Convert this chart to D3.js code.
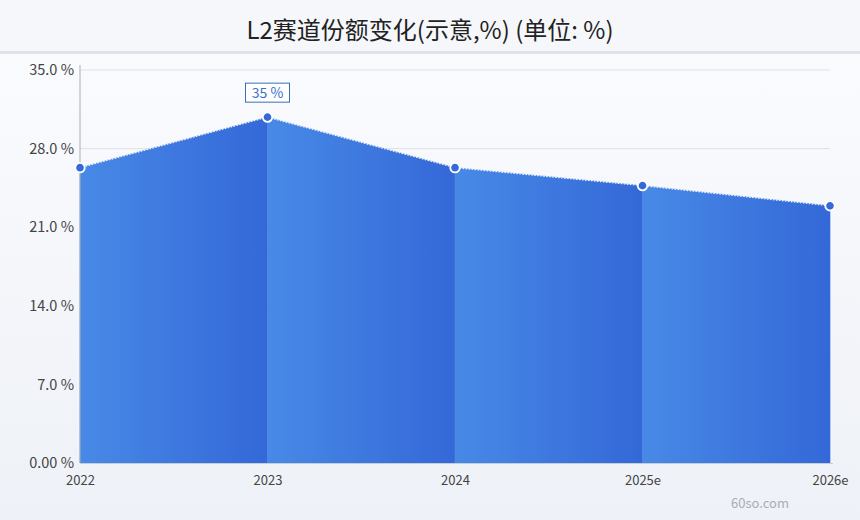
<!DOCTYPE html>
<html><head><meta charset="utf-8">
<script src="https://cdn.jsdelivr.net/npm/d3@7"></script>
<style>
html,body{margin:0;padding:0;}
body{width:860px;height:520px;overflow:hidden;font-family:"Noto Sans CJK SC","Noto Sans",sans-serif;}
</style></head>
<body>
<svg id="c" width="860" height="520"></svg>
<script>
const title = "L2赛道份额变化(示意,%) (单位: %)";
const categories = ["2022","2023","2024","2025e","2026e"];
const values = [26.3, 30.8, 26.3, 24.7, 22.9];
const yTicks = [0, 7, 14, 21, 28, 35];
const yTickLabels = ["0.00 %","7.0 %","14.0 %","21.0 %","28.0 %","35.0 %"];
const peakLabel = "35 %";
const watermark = "60so.com";

const W = 860, H = 520;
const m = {left: 80, right: 30, top: 70, bottom: 57};
const svg = d3.select("#c");
const defs = svg.append("defs");

const bg = defs.append("linearGradient").attr("id","bg").attr("x1",0).attr("y1",0).attr("x2",0).attr("y2",1);
bg.append("stop").attr("offset","0%").attr("stop-color","#fbfcfe");
bg.append("stop").attr("offset","100%").attr("stop-color","#eef1f7");
svg.append("rect").attr("width",W).attr("height",H).attr("fill","url(#bg)");
svg.append("rect").attr("width",W).attr("height",51).attr("fill","#f6f7fb");
svg.append("rect").attr("y",51).attr("width",W).attr("height",3).attr("fill","#dfe2ea");

svg.append("text").attr("x",W/2).attr("y",39).attr("text-anchor","middle")
  .attr("font-size",24).attr("font-weight",400).attr("fill","#222").text(title);

const x = d3.scalePoint().domain(categories).range([m.left, W - m.right]);
const y = d3.scaleLinear().domain([0,35]).range([H - m.bottom, m.top]);

// grid
svg.append("g").selectAll("line").data(yTicks.filter(d=>d>0)).join("line")
  .attr("x1",m.left).attr("x2",W - m.right)
  .attr("y1",d=>y(d)).attr("y2",d=>y(d))
  .attr("stroke","#dde1e8").attr("stroke-width",1);

// segment gradient
const sg = defs.append("linearGradient").attr("id","seg").attr("x1",0).attr("y1",0).attr("x2",1).attr("y2",0);
sg.append("stop").attr("offset","0%").attr("stop-color","#4889e6");
sg.append("stop").attr("offset","100%").attr("stop-color","#3468d8");

const area = d3.area().x(d=>x(d.c)).y0(y(0)).y1(d=>y(d.v));
const pts = categories.map((c,i)=>({c, v: values[i]}));
for (let i = 0; i < pts.length - 1; i++) {
  const seg = [pts[i], pts[i+1]];
  svg.append("path").attr("d", area(seg)).attr("fill","url(#seg)")
    .attr("stroke","url(#seg)").attr("stroke-width",0.6);
}
const line = d3.line().x(d=>x(d.c)).y(d=>y(d.v));
svg.append("path").attr("d", line(pts)).attr("fill","none")
  .attr("stroke","#ffffff").attr("stroke-width",1.2).attr("stroke-dasharray","1.5,1.5").attr("opacity",0.9);

// baseline
svg.append("line").attr("x1",m.left).attr("x2",W - m.right + 3)
  .attr("y1",y(0)+0.5).attr("y2",y(0)+0.5).attr("stroke","#c8ccd4");

// y axis
const ya = svg.append("g").attr("transform",`translate(${m.left},0)`)
  .call(d3.axisLeft(y).tickValues(yTicks).tickSize(0).tickPadding(6).tickFormat((d,i)=>yTickLabels[i]));
ya.select(".domain").attr("stroke","#a9aeb8").attr("d",`M0,${y(35)-5}V${y(0)}`);
ya.selectAll("text").attr("font-size",14.5).attr("fill","#444").attr("font-family","'Noto Sans CJK SC','Noto Sans',sans-serif");

// x axis
const xa = svg.append("g").attr("transform",`translate(0,${y(0)})`)
  .call(d3.axisBottom(x).tickSize(0).tickPadding(13));
xa.select(".domain").remove();
xa.selectAll("text").attr("font-size",13).attr("fill","#444").attr("font-family","'Noto Sans CJK SC','Noto Sans',sans-serif");

// markers
svg.append("g").selectAll("path").data(pts).join("path")
  .attr("transform",d=>`translate(${x(d.c)},${y(d.v)})`)
  .attr("d", d3.symbol().type(d3.symbolCircle).size(70))
  .attr("fill","#3568d8").attr("stroke","#ffffff").attr("stroke-width",1.8);

// peak label
const peak = pts[values.indexOf(d3.max(values))];
const lx = x(peak.c), ly = y(peak.v) - 20;
const lg = svg.append("g");
lg.append("rect").attr("x",lx-22).attr("y",ly-14).attr("width",44).attr("height",19)
  .attr("fill","#ffffff").attr("stroke","#3a6fb8").attr("stroke-width",1);
lg.append("text").attr("x",lx).attr("y",ly+1).attr("text-anchor","middle")
  .attr("font-size",14).attr("fill","#3a6fd0").text(peakLabel);

svg.append("text").attr("x",760).attr("y",508).attr("text-anchor","middle")
  .attr("font-size",13).attr("fill","#a9adb8").text(watermark);
</script>
</body></html>
